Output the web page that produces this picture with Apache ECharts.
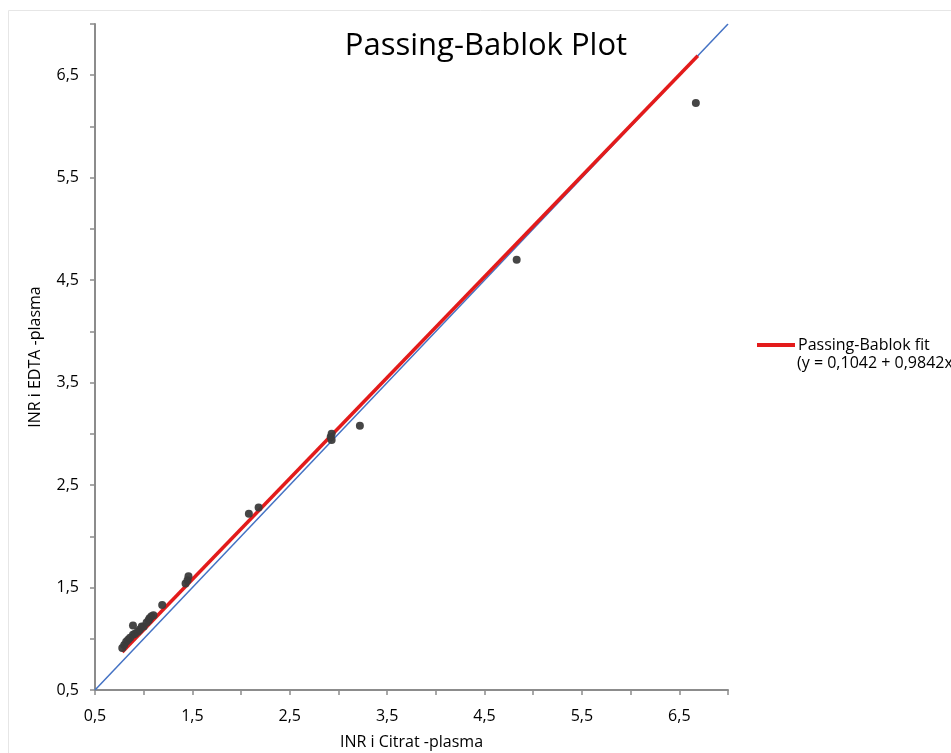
<!DOCTYPE html>
<html>
<head>
<meta charset="utf-8">
<title>Passing-Bablok Plot</title>
<script src="https://cdn.jsdelivr.net/npm/echarts@6/dist/echarts.min.js"></script>
<style>
  html, body { margin: 0; padding: 0; background: #fff; }
  #chart { width: 951px; height: 753px; }
</style>
</head>
<body>
<div id="chart"></div>
<script>
// INR i Citrat-plasma (x) vs INR i EDTA-plasma (y)
const citrat = [0.78, 0.80, 0.82, 0.84, 0.86, 0.89, 0.89, 0.91, 0.94, 0.96, 0.98, 1.00, 1.03, 1.05, 1.06, 1.08, 1.10, 1.19,
  1.43, 1.45, 1.46, 2.08, 2.18, 2.92, 2.93, 2.93, 3.22, 4.83, 6.67];
const edta = [0.91, 0.94, 0.97, 0.99, 1.01, 1.04, 1.13, 1.05, 1.07, 1.09, 1.12, 1.12, 1.16, 1.18, 1.20, 1.22, 1.23, 1.33,
  1.54, 1.57, 1.61, 2.22, 2.28, 2.97, 3.00, 2.94, 3.08, 4.70, 6.23];

// fit line end points (y = 0,1042 + 0,9842x) and identity line
const fitX = [0.78, 6.69];
const fitY = [0.87, 6.69];
const identX = [0.5, 7.0];
const identY = [0.5, 7.0];

const axisMin = 0.5;
const axisMax = 7.0;
const tickStep = 0.5;

const fmt = (v) => {
  // only 0,5 / 1,5 / 2,5 ... get a label
  const r = Math.round(v * 2);
  if (r % 2 === 0) return '';
  return v.toFixed(1).replace('.', ',');
};

const font = '"Open Sans", Lato, sans-serif';
const chart = echarts.init(document.getElementById('chart'));

const option = {
  backgroundColor: '#fff',
  animation: false,
  title: {
    text: 'Passing-Bablok Plot',
    left: 481,
    textAlign: 'center',
    top: 26,
    textStyle: { fontFamily: font, fontSize: 31, fontWeight: 'normal', color: '#000' },
  },
  legend: {
    data: ['Passing-Bablok fit'],
    left: 752,
    top: 332,
    itemWidth: 38,
    itemHeight: 4,
    itemGap: 6,
    icon: 'rect',
    textStyle: { fontFamily: font, fontSize: 16, color: '#000', padding: [0, 0, 0, -2] },
  },
  graphic: [
    {
      type: 'rect',
      shape: { x: 8.5, y: 10.5, width: 1000, height: 800 },
      style: { fill: 'none', stroke: '#e6e6e6', lineWidth: 1 },
      silent: true,
    },
    {
      type: 'text',
      left: 797,
      top: 355,
      style: { text: '(y = 0,1042 + 0,9842x)', font: '16px ' + font, fill: '#000' },
    },
  ],
  grid: { left: 95, right: 223, top: 24, bottom: 63, containLabel: false, outerBoundsMode: 'none' },
  xAxis: {
    type: 'value',
    min: axisMin,
    max: axisMax,
    interval: tickStep,
    name: 'INR i Citrat -plasma',
    nameLocation: 'middle',
    nameGap: 44,
    nameTextStyle: { fontFamily: font, fontSize: 16, color: '#000' },
    axisLine: { show: true, lineStyle: { color: '#8c8c8c', width: 2 } },
    axisTick: { show: true, length: 5, lineStyle: { color: '#8c8c8c', width: 1.5 } },
    axisLabel: { formatter: fmt, fontFamily: font, fontSize: 16, color: '#000', margin: 18 },
    splitLine: { show: false },
  },
  yAxis: {
    type: 'value',
    min: axisMin,
    max: axisMax,
    interval: tickStep,
    name: 'INR i EDTA -plasma',
    nameLocation: 'middle',
    nameGap: 52,
    nameTextStyle: { fontFamily: font, fontSize: 16, color: '#000' },
    axisLine: { show: true, lineStyle: { color: '#8c8c8c', width: 2 } },
    axisTick: { show: true, length: 5, lineStyle: { color: '#8c8c8c', width: 1.5 } },
    axisLabel: { formatter: fmt, fontFamily: font, fontSize: 16, color: '#000', margin: 16 },
    splitLine: { show: false },
  },
  series: [
    {
      name: 'identity',
      type: 'line',
      data: identX.map((x, i) => [x, identY[i]]),
      symbol: 'none',
      lineStyle: { color: '#4472c4', width: 1.5 },
      z: 1,
    },
    {
      name: 'Passing-Bablok fit',
      type: 'line',
      data: fitX.map((x, i) => [x, fitY[i]]),
      symbol: 'none',
      itemStyle: { color: '#e31b1b' },
      lineStyle: { color: '#e31b1b', width: 3.5 },
      z: 2,
    },
    {
      name: 'data',
      type: 'scatter',
      data: citrat.map((x, i) => [x, edta[i]]),
      symbolSize: 8,
      itemStyle: { color: '#3c3c3c', opacity: 0.95 },
      z: 3,
    },
  ],
};

chart.setOption(option);
</script>
</body>
</html>
